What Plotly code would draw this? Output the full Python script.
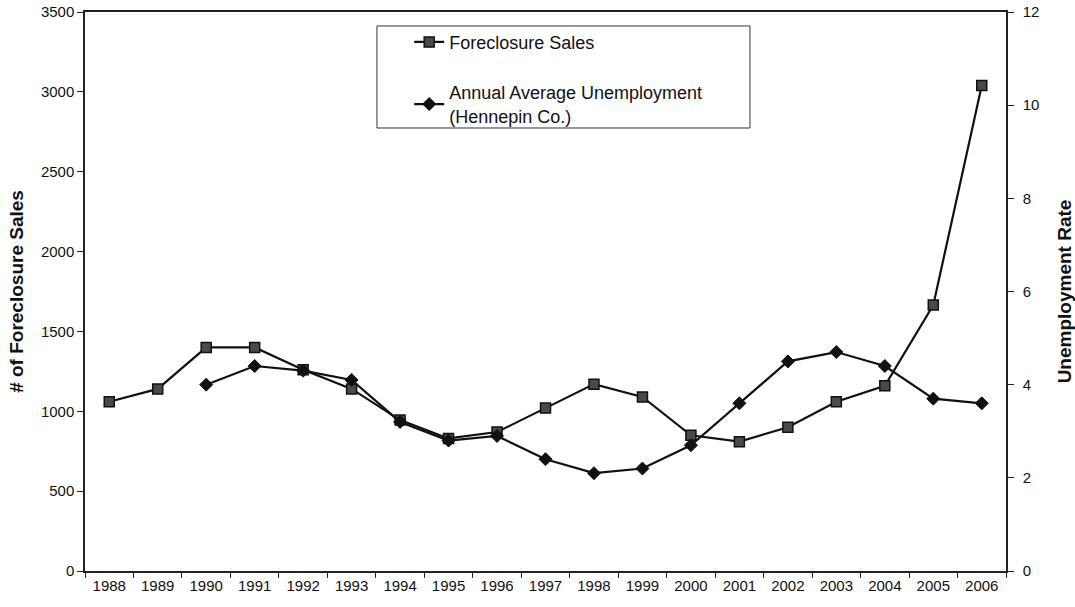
import plotly.graph_objects as go

years = [str(y) for y in range(1988, 2007)]
foreclosure_sales = [1060, 1140, 1400, 1400, 1260, 1140, 945, 830, 870, 1020,
                     1170, 1090, 850, 810, 900, 1060, 1160, 1665, 3040]
unemployment = [None, None, 4.0, 4.4, 4.3, 4.1, 3.2, 2.8, 2.9, 2.4,
                2.1, 2.2, 2.7, 3.6, 4.5, 4.7, 4.4, 3.7, 3.6]

fig = go.Figure()
fig.add_trace(go.Scatter(
    x=years, y=foreclosure_sales, name="Foreclosure Sales",
    mode="lines+markers", legendgroup="a",
    line=dict(color="#111111", width=2.2),
    marker=dict(symbol="square", size=10, color="#4a4a4a",
                line=dict(color="#111111", width=1.5)),
))
fig.add_trace(go.Scatter(
    x=years, y=unemployment, name="Annual Average Unemployment<br>(Hennepin Co.)",
    mode="lines+markers", yaxis="y2", legendgroup="b", connectgaps=False,
    line=dict(color="#111111", width=2.2),
    marker=dict(symbol="diamond", size=10, color="#111111",
                line=dict(color="#111111", width=1)),
))

FONT = "Arial, Liberation Sans, sans-serif"
tickfont = dict(family=FONT, size=15, color="#111111")
titlefont = dict(family=FONT, size=19, color="#111111")

fig.update_layout(
    width=1075, height=607,
    margin=dict(l=85, r=69, t=12, b=36),
    paper_bgcolor="white", plot_bgcolor="white",
    showlegend=True,
    legend=dict(
        x=0.352, y=0.979, xanchor="left", yanchor="top",
        borderwidth=0, bgcolor="rgba(0,0,0,0)",
        font=dict(family=FONT, size=18, color="#111111"),
        tracegroupgap=24,
    ),
    shapes=[dict(
        type="rect", xref="paper", yref="paper",
        x0=0.317, x1=0.722, y0=0.7925, y1=0.975,
        line=dict(color="#333333", width=1), fillcolor="white", layer="below",
    )],
    xaxis=dict(
        type="category", range=[-0.5, 18.5], tickson="boundaries",
        ticks="outside", ticklen=5, automargin=False,
        tickcolor="#222222", showline=True, linecolor="#222222", linewidth=1.5,
        mirror=True, showgrid=False, tickfont=tickfont, zeroline=False,
    ),
    yaxis=dict(
        range=[0, 3500], dtick=500, ticks="outside", ticklen=6, automargin=False,
        tickcolor="#222222", showline=True, linecolor="#222222", linewidth=1.5,
        showgrid=False, zeroline=False, tickfont=tickfont,
        title=dict(text="<b># of Foreclosure Sales</b>", font=titlefont, standoff=12),
    ),
    yaxis2=dict(
        range=[0, 12], dtick=2, overlaying="y", side="right", automargin=False,
        ticks="outside", ticklen=6, tickcolor="#222222", ticklabelstandoff=6,
        showline=True, linecolor="#222222", linewidth=1.5,
        showgrid=False, zeroline=False, tickfont=tickfont,
        title=dict(text="<b>Unemployment Rate</b>", font=titlefont, standoff=22),
    ),
)

fig.write_html("out.html")
